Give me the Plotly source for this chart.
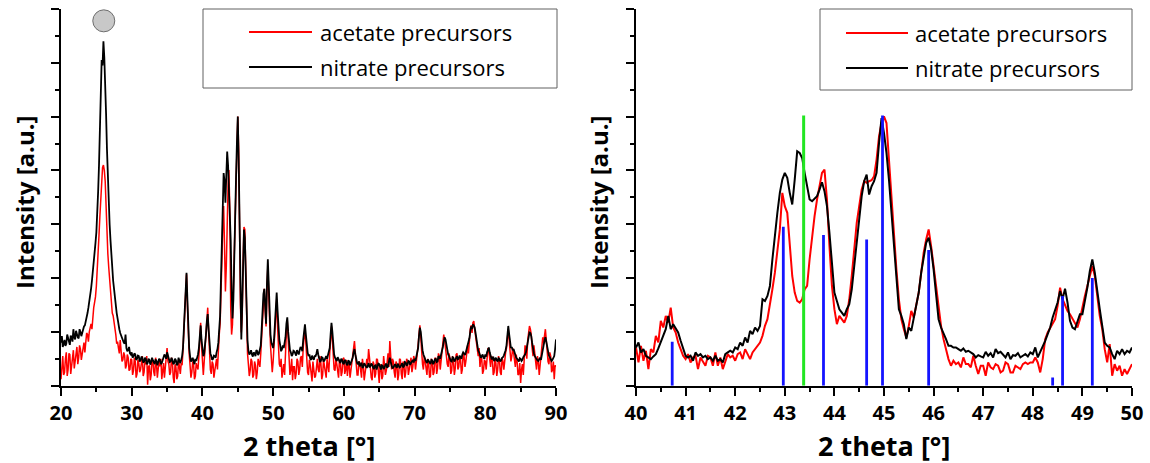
import numpy as np
import plotly.graph_objects as go

# ---- left panel: full scan 20-90 deg, read on a 0.125 deg grid
# (values at 20, 20.25, ... and the in-between values at 20.125, 20.375, ...)
two_theta_full = np.round(np.arange(20, 90.001, 0.125), 3)

nitrate_full = [
    0.80, 0.72, 0.85, 0.78, 0.88, 0.76, 0.90, 1.05,
    0.86, 0.95, 0.88, 1.00, 0.98, 1.10, 1.18, 1.35,
    1.55, 1.80, 2.10, 2.45, 2.85, 3.60, 4.70, 6.05,
    6.40, 5.70, 4.40, 3.40, 2.70, 2.15, 1.80, 1.45,
    1.25, 1.05, 0.93, 0.85, 0.78, 0.70, 0.66, 0.60,
    0.62, 0.55, 0.58, 0.50, 0.55, 0.47, 0.52, 0.45,
    0.50, 0.42, 0.48, 0.44, 0.47, 0.40, 0.46, 0.43,
    0.48, 0.42, 0.50, 0.55, 0.62, 0.52, 0.45, 0.48,
    0.42, 0.47, 0.40, 0.46, 0.48, 0.70, 1.60, 2.10,
    0.95, 0.55, 0.48, 0.45, 0.50, 0.52, 0.70, 1.12,
    0.65, 0.60, 0.95, 1.33, 0.75, 0.55, 0.50, 0.55,
    0.62, 0.80, 1.30, 2.80, 3.95, 3.40, 4.35, 3.70,
    2.70, 1.25, 2.60, 3.85, 5.00, 2.85, 0.86, 2.20,
    2.75, 1.30, 0.65, 0.60, 0.58, 0.62, 0.55, 0.64,
    0.60, 0.75, 1.45, 1.80, 1.15, 2.35, 1.30, 0.80,
    0.70, 1.10, 1.73, 1.05, 0.75, 0.68, 0.70, 0.90,
    1.27, 0.80, 0.62, 0.58, 0.64, 0.56, 0.62, 0.66,
    0.70, 0.85, 1.14, 0.75, 0.55, 0.50, 0.56, 0.48,
    0.55, 0.68, 0.50, 0.46, 0.52, 0.47, 0.55, 0.58,
    0.70, 1.17, 0.72, 0.52, 0.46, 0.50, 0.42, 0.48,
    0.40, 0.46, 0.38, 0.45, 0.43, 0.52, 0.68, 0.48,
    0.40, 0.36, 0.43, 0.35, 0.40, 0.33, 0.42, 0.36,
    0.39, 0.31, 0.38, 0.34, 0.40, 0.30, 0.37, 0.33,
    0.41, 0.36, 0.52, 0.38, 0.34, 0.40, 0.33, 0.38,
    0.35, 0.42, 0.36, 0.43, 0.39, 0.45, 0.42, 0.48,
    0.50, 0.55, 0.70, 1.08, 0.80, 0.58, 0.48, 0.42,
    0.46, 0.40, 0.47, 0.43, 0.50, 0.45, 0.52, 0.58,
    0.72, 0.90, 0.75, 0.58, 0.50, 0.45, 0.52, 0.48,
    0.55, 0.50, 0.54, 0.58, 0.60, 0.62, 0.72, 0.88,
    1.10, 1.14, 1.08, 0.85, 0.65, 0.58, 0.55, 0.52,
    0.58, 0.62, 0.71, 0.55, 0.50, 0.46, 0.52, 0.45,
    0.50, 0.47, 0.53, 0.60, 0.75, 1.11, 0.80, 0.72,
    0.68, 0.56, 0.50, 0.45, 0.50, 0.48, 0.55, 0.62,
    0.80, 0.99, 0.92, 0.68, 0.55, 0.50, 0.46, 0.52,
    0.60, 0.75, 0.90, 0.70, 0.56, 0.50, 0.48, 0.55,
    0.86,
]
nitrate_full_mid = [
    0.92, 0.82, 0.74, 0.95, 0.80, 0.93, 0.82, 0.90,
    1.02, 0.90, 1.05, 0.92, 1.08, 1.12, 1.28, 1.45,
    1.65, 1.95, 2.25, 2.65, 3.15, 4.10, 5.40, 5.95,
    6.10, 5.05, 3.85, 3.00, 2.40, 1.95, 1.60, 1.35,
    1.12, 0.98, 0.90, 0.80, 0.95, 0.64, 0.72, 0.58,
    0.52, 0.60, 0.48, 0.56, 0.45, 0.54, 0.43, 0.52,
    0.40, 0.50, 0.39, 0.52, 0.42, 0.49, 0.38, 0.50,
    0.40, 0.47, 0.58, 0.50, 0.56, 0.44, 0.52, 0.40,
    0.50, 0.38, 0.52, 0.42, 0.55, 1.10, 1.95, 1.60,
    0.70, 0.45, 0.52, 0.40, 0.46, 0.58, 0.95, 0.85,
    0.55, 0.75, 1.20, 1.05, 0.60, 0.48, 0.56, 0.52,
    0.68, 1.00, 2.00, 3.60, 3.80, 3.90, 4.10, 3.20,
    1.80, 1.60, 3.30, 4.50, 4.20, 1.60, 1.50, 2.90,
    2.00, 0.85, 0.58, 0.66, 0.54, 0.60, 0.66, 0.57,
    0.66, 1.05, 1.70, 1.40, 1.90, 1.90, 0.95, 0.72,
    0.85, 1.50, 1.40, 0.85, 0.64, 0.75, 0.78, 1.15,
    1.00, 0.66, 0.55, 0.65, 0.58, 0.66, 0.58, 0.72,
    0.64, 1.05, 0.95, 0.62, 0.58, 0.48, 0.52, 0.55,
    0.60, 0.58, 0.44, 0.53, 0.45, 0.52, 0.50, 0.64,
    0.95, 1.00, 0.58, 0.48, 0.53, 0.45, 0.50, 0.42,
    0.48, 0.40, 0.47, 0.38, 0.48, 0.62, 0.58, 0.42,
    0.45, 0.40, 0.33, 0.42, 0.36, 0.40, 0.34, 0.41,
    0.34, 0.37, 0.30, 0.41, 0.35, 0.38, 0.31, 0.39,
    0.33, 0.45, 0.44, 0.32, 0.39, 0.36, 0.41, 0.34,
    0.40, 0.34, 0.44, 0.37, 0.46, 0.39, 0.47, 0.43,
    0.46, 0.60, 0.92, 1.00, 0.66, 0.52, 0.45, 0.49,
    0.41, 0.48, 0.40, 0.49, 0.44, 0.55, 0.50, 0.64,
    0.82, 0.86, 0.64, 0.55, 0.46, 0.53, 0.45, 0.54,
    0.49, 0.56, 0.50, 0.62, 0.57, 0.68, 0.80, 1.00,
    1.05, 1.12, 0.98, 0.72, 0.62, 0.52, 0.58, 0.50,
    0.54, 0.66, 0.62, 0.50, 0.54, 0.49, 0.47, 0.51,
    0.45, 0.52, 0.56, 0.66, 0.95, 0.96, 0.70, 0.66,
    0.62, 0.52, 0.47, 0.51, 0.46, 0.53, 0.58, 0.70,
    0.92, 0.98, 0.80, 0.60, 0.52, 0.47, 0.50, 0.48,
    0.66, 0.84, 0.82, 0.62, 0.53, 0.46, 0.52, 0.68,
]

acetate_full = [
    0.12, 0.55, 0.25, 0.62, 0.30, 0.58, 0.35, 0.66,
    0.45, 0.72, 0.52, 0.68, 0.60, 0.80, 0.85, 0.95,
    1.00, 1.15, 1.30, 1.55, 1.85, 2.40, 3.15, 3.85,
    4.10, 3.80, 2.75, 2.20, 1.75, 1.35, 1.20, 0.95,
    0.82, 0.60, 0.68, 0.48, 0.56, 0.38, 0.52, 0.30,
    0.48, 0.28, 0.45, 0.22, 0.42, 0.30, 0.55, 0.25,
    0.40, 0.02, 0.38, 0.20, 0.45, 0.18, 0.40, 0.28,
    0.36, 0.12, 0.42, 0.30, 0.70, 0.40, 0.25, 0.45,
    0.05, 0.35, 0.18, 0.30, 0.42, 0.65, 1.55, 2.07,
    0.95, 0.38, 0.25, 0.40, 0.18, 0.35, 0.55, 1.17,
    0.35, 0.45, 0.90, 1.45, 0.50, 0.22, 0.40, 0.28,
    0.50, 0.70, 1.15, 2.30, 3.34, 1.75, 3.20, 4.01,
    1.45, 1.14, 2.70, 3.80, 5.00, 2.50, 0.99, 2.30,
    2.90, 1.00, 0.40, 0.28, 0.45, 0.20, 0.38, 0.25,
    0.42, 0.60, 1.25, 1.80, 1.10, 2.22, 1.05, 0.50,
    0.45, 0.95, 1.60, 0.60, 0.35, 0.15, 0.40, 0.70,
    1.20, 0.45, 0.30, 0.10, 0.35, 0.22, 0.45, 0.30,
    0.55, 0.70, 1.08, 0.45, 0.20, 0.38, 0.08, 0.32,
    0.18, 0.50, 0.25, 0.42, 0.20, 0.38, 0.15, 0.40,
    0.60, 1.10, 0.55, 0.28, 0.40, 0.15, 0.45, 0.25,
    0.52, 0.30, 0.18, 0.40, 0.28, 0.55, 0.83, 0.35,
    0.20, 0.42, 0.15, 0.38, 0.25, 0.50, 0.68, 0.30,
    0.10, 0.40, 0.22, 0.48, 0.05, 0.35, 0.18, 0.42,
    0.28, 0.60, 0.83, 0.30, 0.45, 0.15, 0.40, 0.20,
    0.48, 0.12, 0.38, 0.25, 0.45, 0.30, 0.52, 0.35,
    0.50, 0.42, 0.75, 1.12, 0.60, 0.30, 0.45, 0.20,
    0.40, 0.18, 0.45, 0.25, 0.50, 0.32, 0.55, 0.48,
    0.70, 0.85, 0.55, 0.35, 0.50, 0.28, 0.45, 0.32,
    0.60, 0.35, 0.48, 0.30, 0.55, 0.45, 0.75, 0.90,
    1.12, 1.17, 1.05, 0.80, 0.55, 0.35, 0.50, 0.28,
    0.45, 0.55, 0.65, 0.35, 0.50, 0.25, 0.42, 0.30,
    0.48, 0.20, 0.45, 0.55, 0.70, 1.05, 0.68, 0.55,
    0.62, 0.35, 0.45, 0.22, 0.05, 0.40, 0.50, 0.65,
    0.85, 1.11, 0.95, 0.55, 0.60, 0.30, 0.45, 0.40,
    0.65, 0.80, 1.05, 0.60, 0.40, 0.55, 0.30, 0.12,
    0.35,
]
acetate_full_mid = [
    0.48, 0.20, 0.50, 0.18, 0.60, 0.22, 0.55, 0.32,
    0.62, 0.40, 0.75, 0.48, 0.72, 0.62, 0.98, 0.82,
    1.10, 1.05, 1.45, 1.65, 2.10, 2.80, 3.50, 4.05,
    4.00, 3.30, 2.45, 1.95, 1.50, 1.30, 1.05, 0.78,
    0.70, 0.85, 0.45, 0.62, 0.32, 0.58, 0.28, 0.50,
    0.20, 0.52, 0.15, 0.48, 0.25, 0.50, 0.18, 0.45,
    0.55, 0.35, 0.10, 0.50, 0.25, 0.52, 0.15, 0.48,
    0.50, 0.35, 0.15, 0.55, 0.45, 0.20, 0.52, 0.15,
    0.40, 0.12, 0.48, 0.22, 0.38, 1.00, 1.90, 1.50,
    0.60, 0.15, 0.45, 0.12, 0.42, 0.30, 0.90, 0.75,
    0.20, 0.70, 1.25, 1.00, 0.30, 0.45, 0.15, 0.45,
    0.30, 0.95, 1.60, 3.00, 2.60, 2.20, 3.70, 3.20,
    0.95, 1.80, 3.40, 4.60, 4.40, 1.50, 1.30, 2.95,
    2.00, 0.60, 0.18, 0.50, 0.15, 0.45, 0.12, 0.50,
    0.35, 0.90, 1.60, 1.40, 1.80, 1.70, 0.75, 0.25,
    0.70, 1.40, 1.10, 0.40, 0.50, 0.35, 0.20, 1.00,
    0.80, 0.20, 0.50, 0.35, 0.12, 0.50, 0.20, 0.52,
    0.35, 0.95, 0.80, 0.25, 0.48, 0.18, 0.45, 0.15,
    0.45, 0.30, 0.55, 0.12, 0.48, 0.22, 0.50, 0.25,
    0.95, 0.85, 0.30, 0.50, 0.22, 0.48, 0.18, 0.50,
    0.22, 0.48, 0.40, 0.15, 0.50, 0.70, 0.60, 0.20,
    0.45, 0.22, 0.50, 0.10, 0.45, 0.40, 0.52, 0.15,
    0.45, 0.15, 0.50, 0.25, 0.40, 0.12, 0.55, 0.20,
    0.50, 0.35, 0.55, 0.50, 0.25, 0.45, 0.10, 0.50,
    0.22, 0.45, 0.15, 0.50, 0.20, 0.48, 0.25, 0.55,
    0.30, 0.60, 0.95, 0.90, 0.40, 0.55, 0.25, 0.50,
    0.15, 0.50, 0.20, 0.52, 0.22, 0.60, 0.30, 0.62,
    0.95, 0.65, 0.40, 0.60, 0.22, 0.55, 0.20, 0.58,
    0.30, 0.55, 0.22, 0.62, 0.35, 0.65, 0.60, 1.05,
    0.98, 1.20, 0.90, 0.60, 0.70, 0.55, 0.22, 0.48,
    0.30, 0.70, 0.45, 0.55, 0.20, 0.50, 0.18, 0.55,
    0.25, 0.52, 0.30, 0.62, 0.95, 0.85, 0.45, 0.70,
    0.40, 0.58, 0.20, 0.42, 0.30, 0.20, 0.75, 0.50,
    1.00, 1.05, 0.70, 0.75, 0.35, 0.55, 0.20, 0.60,
    0.90, 0.95, 0.85, 0.45, 0.62, 0.25, 0.45, 0.38,
]

# graphite reflection marker (grey circle)
marker_pos = 26.05
marker_int = 6.78

# ---- right panel: zoom 40-50 deg, step 0.05 (intensity in counts)
two_theta_zoom = np.round(np.arange(40, 50.001, 0.05), 2)

nitrate_zoom = [
    115, 130, 100, 110, 90, 85, 80, 88, 95, 112, 130, 150, 170, 210, 170, 185, 172, 160, 135, 110,
    90, 85, 90, 75, 100, 90, 95, 85, 90, 80, 85, 75, 90, 75, 80, 70, 95, 100, 105, 100,
    115, 110, 130, 120, 145, 130, 165, 155, 175, 165, 180, 260, 255, 270, 300, 380, 460, 520, 580, 620,
    640, 625, 580, 545, 620, 705, 700, 685, 640, 600, 560, 555, 562, 570, 590, 612, 585, 540, 460, 360,
    280, 255, 230, 220, 210, 230, 245, 290, 360, 440, 500, 570, 615, 635, 575, 600, 615, 640, 730, 805,
    760, 700, 620, 520, 430, 320, 230, 210, 185, 140, 175, 165, 200, 240, 280, 340, 390, 430, 445, 410,
    350, 270, 200, 175, 160, 140, 120, 120, 115, 115, 110, 105, 112, 102, 105, 100, 95, 85, 92, 88,
    85, 102, 90, 98, 85, 110, 98, 102, 95, 85, 100, 80, 92, 90, 98, 85, 90, 95, 88, 100,
    95, 115, 85, 100, 120, 135, 155, 175, 205, 225, 250, 285, 260, 292, 250, 195, 175, 170, 190, 215,
    215, 250, 295, 345, 380, 340, 280, 230, 180, 130, 120, 115, 95, 80, 105, 95, 110, 95, 105, 100,
    115,
]

acetate_zoom = [
    115, 70, 120, 75, 105, 50, 110, 100, 150, 130, 195, 175, 210, 190, 235, 175, 160, 130, 110, 90,
    80, 95, 70, 85, 90, 50, 85, 70, 60, 90, 85, 60, 100, 60, 85, 50, 70, 95, 85, 90,
    75, 95, 100, 80, 110, 95, 80, 100, 110, 120, 130, 150, 180, 200, 240, 290, 340, 400, 470, 580,
    540, 520, 420, 330, 280, 255, 250, 260, 290, 300, 380, 450, 510, 560, 600, 640, 650, 560, 420, 300,
    230, 185, 210, 200, 190, 210, 260, 330, 410, 490, 540, 590, 615, 610, 615, 618, 630, 680, 750, 790,
    810, 790, 680, 560, 460, 350, 260, 200, 170, 145, 180, 225, 205, 240, 280, 340, 400, 440, 470, 420,
    360, 290, 230, 180, 140, 105, 80, 60, 75, 65, 70, 55, 85, 65, 65, 55, 90, 60, 35, 60,
    60, 30, 70, 55, 50, 65, 60, 40, 45, 70, 65, 40, 40, 60, 55, 50, 65, 70, 65, 70,
    70, 85, 70, 40, 80, 140, 160, 175, 185, 200, 240, 295, 260, 240, 225, 215, 200, 190, 175, 200,
    240, 270, 300, 330, 360, 330, 270, 210, 170, 110, 70, 125, 30, 65, 45, 60, 30, 50, 35, 50,
    65,
]

# reference pattern sticks
ref_blue_pos = [40.73, 42.97, 43.78, 44.65, 44.97, 45.90, 48.40, 48.60, 49.20]
ref_blue_int = [132, 478, 453, 440, 813, 408, 25, 270, 324]
ref_green_pos = [43.38]
ref_green_int = [813]

W, H = 1150, 463


def px_x(p):
    return p / W


def px_y(p):
    return 1 - p / H


def interleave(main, mid):
    out = np.empty(len(main) + len(mid))
    out[0::2] = main
    out[1::2] = mid
    return out


def sticks(pos, ints):
    xs, ys = [], []
    for p, h in zip(pos, ints):
        xs += [p, p, None]
        ys += [0, h, None]
    return xs, ys


nitrate_y = interleave(nitrate_full, nitrate_full_mid)
acetate_y = interleave(acetate_full, acetate_full_mid)

fig = go.Figure()

# left panel
fig.add_trace(go.Scatter(x=two_theta_full, y=acetate_y, mode='lines',
                         line=dict(color='#ff0000', width=1.5), xaxis='x', yaxis='y'))
fig.add_trace(go.Scatter(x=two_theta_full, y=nitrate_y, mode='lines',
                         line=dict(color='#000000', width=1.8), xaxis='x', yaxis='y'))
fig.add_trace(go.Scatter(x=[marker_pos], y=[marker_int], mode='markers', cliponaxis=False,
                         marker=dict(size=22, color='#c8c8c8', line=dict(color='#6e6e6e', width=1)),
                         xaxis='x', yaxis='y'))

# right panel
fig.add_trace(go.Scatter(x=two_theta_zoom, y=acetate_zoom, mode='lines',
                         line=dict(color='#ff0000', width=2), xaxis='x2', yaxis='y2'))
fig.add_trace(go.Scatter(x=two_theta_zoom, y=nitrate_zoom, mode='lines',
                         line=dict(color='#000000', width=2), xaxis='x2', yaxis='y2'))
bx, by = sticks(ref_blue_pos, ref_blue_int)
fig.add_trace(go.Scatter(x=bx, y=by, mode='lines', line=dict(color='#1414ff', width=2.8),
                         xaxis='x2', yaxis='y2'))
gx, gy = sticks(ref_green_pos, ref_green_int)
fig.add_trace(go.Scatter(x=gx, y=gy, mode='lines', line=dict(color='#22e622', width=3),
                         xaxis='x2', yaxis='y2'))

tickfont = dict(family='Open Sans', size=20, color='black', weight='bold')
axis_common = dict(showline=True, linecolor='black', linewidth=2, ticks='outside',
                   ticklen=8, tickwidth=2, tickcolor='black', showgrid=False, zeroline=False,
                   automargin=False)

y_dom = [px_y(385.7), px_y(9)]
fig.update_layout(
    width=W, height=H, autosize=False,
    margin=dict(l=0, r=0, t=0, b=0, pad=0, autoexpand=False),
    paper_bgcolor='white', plot_bgcolor='white',
    showlegend=False,
    xaxis=dict(domain=[px_x(61), px_x(556)], range=[20, 90], anchor='y', tick0=20, dtick=10,
               tickfont=tickfont,
               minor=dict(ticks='outside', ticklen=4, tickwidth=1.5, tickcolor='black', dtick=5),
               **axis_common),
    yaxis=dict(domain=y_dom, range=[0, 7], anchor='x', tick0=0, dtick=1, showticklabels=False,
               minor=dict(ticks='outside', ticklen=4, tickwidth=1.5, tickcolor='black', dtick=0.5),
               **axis_common),
    xaxis2=dict(domain=[px_x(636), px_x(1132)], range=[40, 50], anchor='y2', tick0=40, dtick=1,
                tickfont=tickfont,
                minor=dict(ticks='outside', ticklen=4, tickwidth=1.5, tickcolor='black', dtick=0.5),
                **axis_common),
    yaxis2=dict(domain=y_dom, range=[0, 1133], anchor='x2', tick0=0, dtick=1133 / 7,
                showticklabels=False,
                minor=dict(ticks='outside', ticklen=4, tickwidth=1.5, tickcolor='black',
                           dtick=1133 / 14),
                **axis_common),
)

# axis titles
title_font = dict(family='Open Sans', size=27, color='black', weight='bold')
ylab_font = dict(family='Open Sans', size=24, color='black', weight='bold')
for cx, ycx in [(308.5, 24), (884, 598)]:
    fig.add_annotation(text='2 theta [°]', xref='paper', yref='paper', x=px_x(cx), y=px_y(445),
                       xanchor='center', yanchor='middle', showarrow=False, font=title_font)
    fig.add_annotation(text='Intensity [a.u.]', xref='paper', yref='paper', x=px_x(ycx),
                       y=px_y(202), xanchor='center', yanchor='middle', textangle=-90,
                       showarrow=False, font=ylab_font)

# legends drawn as boxes
legend_font = dict(family='Open Sans', size=22, color='black')
legend_boxes = [
    dict(x0=203, x1=557, y0=9, y1=88, l0=249, l1=312, tx=318, r1=32, r2=67),
    dict(x0=820, x1=1132, y0=9, y1=90, l0=846, l1=908, tx=913, r1=33, r2=68),
]
for b in legend_boxes:
    fig.add_shape(type='rect', xref='paper', yref='paper', x0=px_x(b['x0']), x1=px_x(b['x1']),
                  y0=px_y(b['y1']), y1=px_y(b['y0']), line=dict(color='#606060', width=1),
                  fillcolor='white', layer='above')
    for row, col, label in [(b['r1'], '#ff0000', 'acetate precursors'),
                            (b['r2'], '#000000', 'nitrate precursors')]:
        fig.add_shape(type='line', xref='paper', yref='paper', x0=px_x(b['l0']), x1=px_x(b['l1']),
                      y0=px_y(row), y1=px_y(row), line=dict(color=col, width=2))
        fig.add_annotation(text=label, xref='paper', yref='paper', x=px_x(b['tx']), y=px_y(row),
                           xanchor='left', yanchor='middle', showarrow=False, font=legend_font)

# page body has a default 8px margin; drop it so the figure sits at the window origin
fig.write_html("out.html", config={'displayModeBar': False},
               post_script="document.body.style.margin='0';")
